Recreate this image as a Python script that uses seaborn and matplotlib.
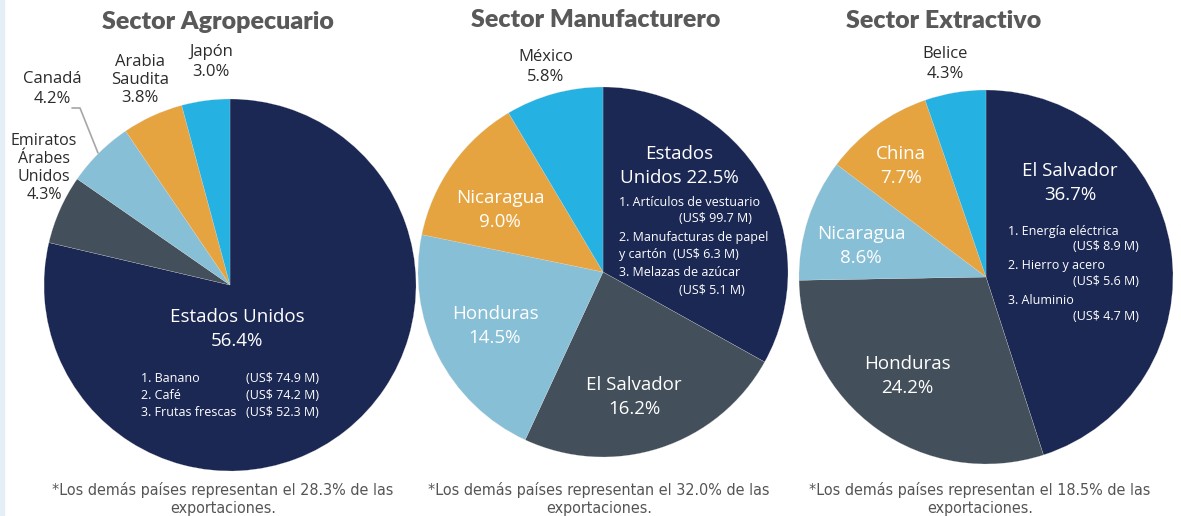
import matplotlib.pyplot as plt
import seaborn as sns
from matplotlib.patches import Rectangle

# %%
# data
agro_countries = ["Estados Unidos", "Emiratos Árabes Unidos", "Canadá", "Arabia Saudita", "Japón"]
agro_shares = [56.4, 4.3, 4.2, 3.8, 3.0]
agro_rest = 28.3
agro_products = ["1. Banano", "2. Café", "3. Frutas frescas"]
agro_values = [74.9, 74.2, 52.3]

manu_countries = ["Estados Unidos", "El Salvador", "Honduras", "Nicaragua", "México"]
manu_shares = [22.5, 16.2, 14.5, 9.0, 5.8]
manu_rest = 32.0
manu_products = ["1. Artículos de vestuario", "2. Manufacturas de papel\ny cartón", "3. Melazas de azúcar"]
manu_values = [99.7, 6.3, 5.1]

extr_countries = ["El Salvador", "Honduras", "Nicaragua", "China", "Belice"]
extr_shares = [36.7, 24.2, 8.6, 7.7, 4.3]
extr_rest = 18.5
extr_products = ["1. Energía eléctrica", "2. Hierro y acero", "3. Aluminio"]
extr_values = [8.9, 5.6, 4.7]

# %%
sns.set_theme(style="white")
plt.rcParams["font.family"] = ["Open Sans", "DejaVu Sans"]

palette = sns.color_palette(["#1c2854", "#434f5a", "#87bfd6", "#e6a441", "#25b1e2"])
TITLE_C = "#595959"
DARK_C = "#2b2b2b"
SMALL = 9
BIG = 13.5

W, H = 1181, 516
fig = plt.figure(figsize=(W / 100, H / 100), dpi=100)
fig.patch.set_facecolor("white")
fig.patches.append(Rectangle((0, 0), 4 / W, 1, transform=fig.transFigure, color="#e4eef6", zorder=0))


def px(x, y, s, **kw):
    # place text using reference pixel coordinates
    kw.setdefault("ha", "center")
    kw.setdefault("va", "center")
    return fig.text(x / W, 1 - y / H, s, **kw)


def draw_pie(cx, cy, r, shares):
    ax = fig.add_axes([(cx - r) / W, (H - cy - r) / H, 2 * r / W, 2 * r / H])
    ax.pie(shares, colors=palette, startangle=90, counterclock=False,
           wedgeprops=dict(edgecolor="#dddddd", linewidth=0.15))
    ax.set_xlim(-1, 1)
    ax.set_ylim(-1, 1)
    ax.set_aspect("auto")
    ax.axis("off")
    return ax


def lbl(x, y, name, share, color="white", size=BIG, sep="\n"):
    px(x, y, f"{name}{sep}{share:.1f}%", color=color, fontsize=size, linespacing=1.4)


def money(v):
    return f"(US$ {v:.1f} M)"


title_kw = dict(color=TITLE_C, fontsize=18, fontweight="heavy", family=["Lato", "DejaVu Sans"])
foot_kw = dict(color="#555555", fontsize=11.5, family=["DejaVu Sans"], fontstretch="condensed", linespacing=1.2)

# %% Sector Agropecuario
draw_pie(230, 285, 186, agro_shares)
px(218, 22, "Sector Agropecuario", **title_kw)
lbl(237, 329, agro_countries[0], agro_shares[0])
for i, (p, v) in enumerate(zip(agro_products, agro_values)):
    px(141, 379 + 16.5 * i, p, ha="left", color="white", fontsize=SMALL)
    px(246, 379 + 16.5 * i, money(v), ha="left", color="white", fontsize=SMALL)
px(44, 168, "Emiratos\nÁrabes\nUnidos\n" + f"{agro_shares[1]:.1f}%", color=DARK_C, fontsize=11.5, linespacing=1.15)
lbl(52, 89, agro_countries[2], agro_shares[2], color=DARK_C, size=12)
px(140, 80, "Arabia\nSaudita\n" + f"{agro_shares[3]:.1f}%", color=DARK_C, fontsize=12, linespacing=1.2)
lbl(211, 62, agro_countries[4], agro_shares[4], color=DARK_C, size=12)
fig.add_artist(plt.Line2D([72 / W, 80 / W, 98 / W], [1 - 108 / H, 1 - 108 / H, 1 - 153 / H],
                          transform=fig.transFigure, color="#a6a6a6", lw=1.2))
px(223, 499, f"*Los demás países representan el {agro_rest:.1f}% de las\nexportaciones.", **foot_kw)

# %% Sector Manufacturero
draw_pie(603, 272, 185, manu_shares)
px(596, 20, "Sector Manufacturero", **title_kw)
px(679, 166, "Estados\nUnidos " + f"{manu_shares[0]:.1f}%", color="white", fontsize=BIG, linespacing=1.4)
px(619, 202, manu_products[0], ha="left", color="white", fontsize=SMALL)
px(679, 219, money(manu_values[0]), ha="left", color="white", fontsize=SMALL)
px(619, 246, manu_products[1] + "  " + money(manu_values[1]), ha="left", color="white", fontsize=SMALL, linespacing=1.4)
px(619, 272, manu_products[2], ha="left", color="white", fontsize=SMALL)
px(679, 290, money(manu_values[2]), ha="left", color="white", fontsize=SMALL)
lbl(634, 397, manu_countries[1], manu_shares[1])
lbl(495, 326, manu_countries[2], manu_shares[2])
lbl(500, 210, manu_countries[3], manu_shares[3])
lbl(546, 67, manu_countries[4], manu_shares[4], color=DARK_C, size=12)
px(599, 499, f"*Los demás países representan el {manu_rest:.1f}% de las\nexportaciones.", **foot_kw)

# %% Sector Extractivo
draw_pie(986, 277, 187, extr_shares)
px(944, 21, "Sector Extractivo", **title_kw)
lbl(1070, 183, extr_countries[0], extr_shares[0])
for i, (p, v) in enumerate(zip(extr_products, extr_values)):
    px(1008, 231 + 34.5 * i, p, ha="left", color="white", fontsize=SMALL)
    px(1139, 247 + 34.5 * i, money(v), ha="right", color="white", fontsize=SMALL)
lbl(907, 376, extr_countries[1], extr_shares[1])
lbl(861, 246, extr_countries[2], extr_shares[2])
lbl(901, 166, extr_countries[3], extr_shares[3])
lbl(945, 64, extr_countries[4], extr_shares[4], color=DARK_C, size=12)
px(980, 499, f"*Los demás países representan el {extr_rest:.1f}% de las\nexportaciones.", **foot_kw)

fig.savefig("out.png", dpi=100)
